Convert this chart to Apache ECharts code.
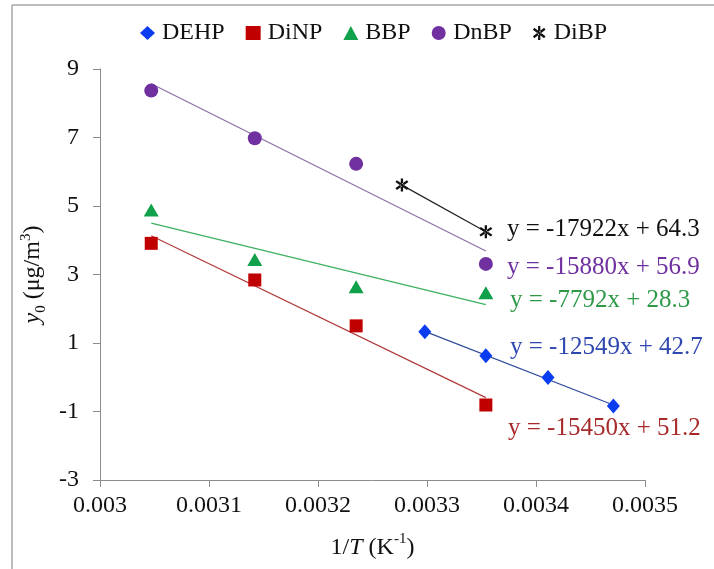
<!DOCTYPE html>
<html>
<head>
<meta charset="utf-8">
<script src="https://cdn.jsdelivr.net/npm/echarts@6/dist/echarts.min.js"></script>
<style>
  html, body { margin: 0; padding: 0; background: #fff; }
  #main { width: 714px; height: 569px; }
</style>
</head>
<body>
<div id="main"></div>
<script>
// 数据 (1/T, y0)
var dehpX = [0.003298, 0.003354, 0.003411, 0.003471];
var dehpY = [1.33, 0.63, -0.01, -0.84];
var dinpX = [0.003047, 0.003142, 0.003235, 0.003354];
var dinpY = [3.91, 2.84, 1.50, -0.81];
var bbpX = [0.003047, 0.003142, 0.003235, 0.003354];
var bbpY = [4.88, 3.44, 2.64, 2.47];
var dnbpX = [0.003047, 0.003142, 0.003235, 0.003354];
var dnbpY = [8.37, 6.98, 6.23, 3.31];
var dibpX = [0.003277, 0.003354];
var dibpY = [5.61, 4.25];

var yTicks = [-3, -1, 1, 3, 5, 7, 9];
var eqLabels = ['y = -17922x + 64.3', 'y = -15880x + 56.9', 'y = -7792x + 28.3', 'y = -12549x + 42.7', 'y = -15450x + 51.2'];

var FONT = 'Liberation Serif';
// 星号标记: 竖线 + X
var starPath = 'path://M4.2,0L5.8,0L5.8,10L4.2,10Z' +
    'M1.5,1.3L9.5,7.3L8.5,8.7L0.5,2.7Z' +
    'M1.5,8.7L9.5,2.7L8.5,1.3L0.5,7.3Z';

function pairs(xs, ys) {
    return xs.map(function (x, i) { return [x, ys[i]]; });
}

// 线性趋势线 (最小二乘)
function trend(xs, ys) {
    var n = xs.length, mx = 0, my = 0, sxy = 0, sxx = 0;
    for (var i = 0; i < n; i++) { mx += xs[i] / n; my += ys[i] / n; }
    for (var j = 0; j < n; j++) {
        sxy += (xs[j] - mx) * (ys[j] - my);
        sxx += (xs[j] - mx) * (xs[j] - mx);
    }
    var k = sxy / sxx, b = my - k * mx;
    var x0 = Math.min.apply(null, xs), x1 = Math.max.apply(null, xs);
    return [[x0, k * x0 + b], [x1, k * x1 + b]];
}

function scatter(name, xs, ys, symbol, size, color) {
    return {
        name: name, type: 'scatter', data: pairs(xs, ys),
        symbol: symbol, symbolSize: size, z: 3,
        itemStyle: { color: color, opacity: 1 }
    };
}

function line(xs, ys, color) {
    return {
        type: 'line', data: trend(xs, ys), showSymbol: false, silent: true,
        lineStyle: { color: color, width: 1.2 }, z: 2
    };
}

var myChart = echarts.init(document.getElementById('main'));

var eqPos = [[507, 231, '#111111'], [507, 269, '#7030a0'], [510, 302, '#2e9a48'], [510, 349, '#2f48b0'], [508, 430, '#a82a2a']];

myChart.setOption({
    animation: false,
    textStyle: { fontFamily: FONT },
    legend: {
        data: ['DEHP', 'DiNP', 'BBP', 'DnBP', 'DiBP'],
        left: 135, top: 16,
        itemWidth: 15, itemHeight: 14, itemGap: 21,
        textStyle: { fontFamily: FONT, fontSize: 24, color: '#111', padding: [0, 0, 0, 2] }
    },
    grid: { left: 100, right: 69, top: 69, bottom: 89 },
    xAxis: {
        type: 'value', min: 0.003, max: 0.0035, interval: 0.0001,
        name: '{n|1/}{i|T}{n| (K}{sup|-1}{n|)}',
        nameLocation: 'middle', nameGap: 52,
        nameTextStyle: {
            rich: {
                n: { fontFamily: FONT, fontSize: 24, color: '#111', lineHeight: 28, verticalAlign: 'bottom' },
                i: { fontFamily: FONT, fontSize: 24, fontStyle: 'italic', color: '#111', lineHeight: 28, verticalAlign: 'bottom' },
                sup: { fontFamily: FONT, fontSize: 15, color: '#111', lineHeight: 28, verticalAlign: 'top' }
            }
        },
        axisLine: { onZero: false, lineStyle: { color: '#8c8c8c', width: 1 } },
        axisTick: { length: 7, lineStyle: { color: '#8c8c8c' } },
        axisLabel: { fontFamily: FONT, fontSize: 24, color: '#111', margin: 14 },
        splitLine: { show: false }
    },
    yAxis: {
        type: 'value', min: -3, max: 9,
        name: '{i|y}{sub|0}{n| (μg/m}{sup|3}{n|)}',
        nameLocation: 'middle', nameGap: 39, nameRotate: 90,
        nameTextStyle: {
            rich: {
                n: { fontFamily: FONT, fontSize: 24, color: '#111', lineHeight: 30, verticalAlign: 'middle' },
                i: { fontFamily: FONT, fontSize: 24, fontStyle: 'italic', color: '#111', lineHeight: 30, verticalAlign: 'middle' },
                sub: { fontFamily: FONT, fontSize: 15, color: '#111', lineHeight: 30, verticalAlign: 'bottom' },
                sup: { fontFamily: FONT, fontSize: 15, color: '#111', lineHeight: 30, verticalAlign: 'top' }
            }
        },
        axisLine: { show: true, onZero: false, lineStyle: { color: '#8c8c8c', width: 1 } },
        axisTick: { show: true, length: 7, customValues: yTicks, lineStyle: { color: '#8c8c8c' } },
        axisLabel: { fontFamily: FONT, fontSize: 24, color: '#111', margin: 21, customValues: yTicks },
        splitLine: { show: false }
    },
    graphic: [
        { type: 'line', shape: { x1: 12, y1: 5, x2: 714, y2: 5 }, style: { stroke: '#a6a6a6', lineWidth: 1.5 } },
        { type: 'line', shape: { x1: 12, y1: 5, x2: 12, y2: 569 }, style: { stroke: '#a6a6a6', lineWidth: 1.5 } }
    ].concat(eqLabels.map(function (t, i) {
        return {
            type: 'text', left: eqPos[i][0], top: eqPos[i][1] - 14,
            style: { text: t, fill: eqPos[i][2], font: '25px "Liberation Serif"' }
        };
    })),
    series: [
        scatter('DEHP', dehpX, dehpY, 'diamond', [13, 15], '#0a3cf0'),
        scatter('DiNP', dinpX, dinpY, 'rect', 13, '#c00000'),
        scatter('BBP', bbpX, bbpY, 'triangle', [15, 13], '#11a14a'),
        scatter('DnBP', dnbpX, dnbpY, 'circle', 14, '#7030a0'),
        scatter('DiBP', dibpX, dibpY, starPath, 13, '#111111'),
        line(dehpX, dehpY, '#2f4b9a'),
        line(dinpX, dinpY, '#b03a3a'),
        line(bbpX, bbpY, '#3cb060'),
        line(dnbpX, dnbpY, '#8a70a8'),
        line(dibpX, dibpY, '#222222')
    ]
});
</script>
</body>
</html>
